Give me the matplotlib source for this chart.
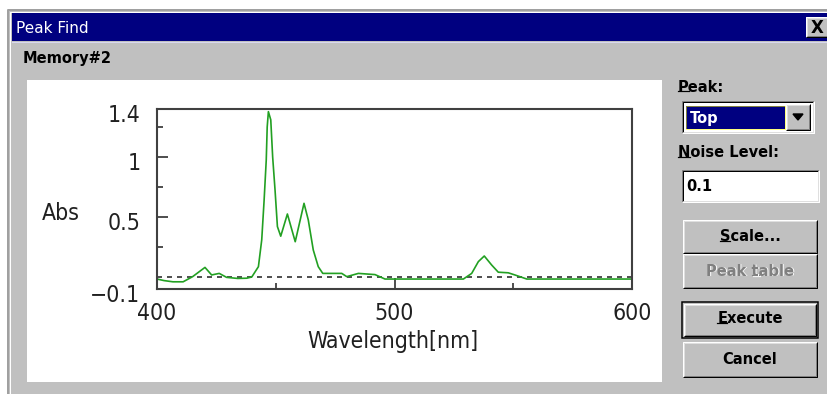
import matplotlib
matplotlib.use('Agg')
import matplotlib.pyplot as plt
from matplotlib.patches import Rectangle
from matplotlib.ticker import FixedLocator
from matplotlib.transforms import ScaledTranslation

# spectrum
wavelength = [400, 403, 406.7, 411, 415, 420.2, 423, 426.2, 429.3, 434, 437.8, 439.9,
              442.7, 444.1, 445.1, 446.0, 446.4, 446.9, 447.9, 448.7, 449.7, 450.7,
              452.1, 454.9, 458.2, 461.9, 463.7, 465.8, 467.9, 469.8, 474, 477.8,
              479.9, 484.8, 491.8, 496, 510, 529, 532.5, 535.3, 537.8, 540.9, 543.7,
              547.9, 550.7, 555.7, 580, 600]
absorbance = [-0.017, -0.03, -0.04, -0.04, 0.003, 0.08, 0.017, 0.03, -0.003, -0.012,
              -0.01, 0.0, 0.086, 0.31, 0.64, 0.975, 1.25, 1.378, 1.31, 1.0, 0.725,
              0.42, 0.34, 0.525, 0.294, 0.614, 0.475, 0.225, 0.086, 0.03, 0.03, 0.03,
              0.003, 0.03, 0.02, -0.017, -0.017, -0.017, 0.03, 0.128, 0.175, 0.1,
              0.04, 0.035, 0.017, -0.017, -0.017, -0.017]

x_major = [400, 500, 600]
x_minor = [450, 550]
y_major = [-0.1, 0.5, 1, 1.4]
y_major_labels = ['\u22120.1', '0.5', '1', '1.4']
y_minor = [0.25, 0.75, 1.25]
noise_level = '0.1'
peak_mode = 'Top'

W, H = 827, 394
FACE = '#c0c0c0'
NAVY = '#000080'
GREEN = '#22a022'

fig = plt.figure(figsize=(W / 100, H / 100), dpi=100)
fig.patch.set_facecolor('white')

# overlay in pixel coordinates for the dialog chrome
bg = fig.add_axes([0, 0, 1, 1])
bg.set_xlim(0, W)
bg.set_ylim(H, 0)
bg.axis('off')
PX = 0.72  # one pixel in points


def edge(x0, y0, x1, y1, tl, br, lw=1):
    bg.plot([x0, x0, x1], [y1, y0, y0], color=tl, lw=lw * PX, solid_capstyle='butt')
    bg.plot([x0, x1, x1], [y1, y1, y0], color=br, lw=lw * PX, solid_capstyle='butt')


def raised(x0, y0, x1, y1):
    bg.add_patch(Rectangle((x0, y0), x1 - x0, y1 - y0, facecolor=FACE, edgecolor='none'))
    edge(x0, y0, x1, y1, 'white', 'black')
    edge(x0 + 1, y0 + 1, x1 - 1, y1 - 1, '#dfdfdf', '#808080')


def sunken(x0, y0, x1, y1, face='white'):
    bg.add_patch(Rectangle((x0, y0), x1 - x0, y1 - y0, facecolor=face, edgecolor='none'))
    edge(x0, y0, x1, y1, '#808080', 'white')
    edge(x0 + 1, y0 + 1, x1 - 1, y1 - 1, 'black', '#dfdfdf')


def label(x, y, s, ul=None, **kw):
    kw.setdefault('fontsize', 10.5)
    kw.setdefault('fontweight', 'bold')
    kw.setdefault('va', 'center')
    t = bg.text(x, y, s, **kw)
    if ul is None:
        return t
    r = fig.canvas.get_renderer()
    bb = t.get_window_extent(r)
    props = dict(fontsize=kw['fontsize'], fontweight=kw['fontweight'])
    tmp = bg.text(0, 0, s[:ul + 1], **props)
    w_pre = tmp.get_window_extent(r).width
    tmp.remove()
    tmp = bg.text(0, 0, s[ul], **props)
    w_ch = tmp.get_window_extent(r).width
    tmp.remove()
    inv = bg.transData.inverted()
    xa, ya = inv.transform((bb.x0 + w_pre - w_ch, bb.y0 + 3.5))
    xb, _ = inv.transform((bb.x0 + w_pre, bb.y0 + 3.5))
    bg.plot([xa, xb], [ya, ya], color=kw.get('color', 'black'), lw=1.2 * PX)
    return t


# window frame and title bar
bg.add_patch(Rectangle((8, 10), W, H, facecolor=FACE, edgecolor='none'))
edge(8, 10, W + 5, H + 5, '#a0a0a0', '#404040', lw=2)
edge(10, 12, W + 5, H + 5, 'white', '#808080')
bg.add_patch(Rectangle((12, 13), W - 12, 28, facecolor=NAVY, edgecolor='none'))
bg.plot([12, W], [42, 42], color='#d8d8f0', lw=PX)
bg.text(16, 28, 'Peak Find', color='white', fontsize=11, va='center')
raised(806, 17, 830, 37)
bg.text(817, 27.5, 'X', fontsize=12, fontweight='bold', ha='center', va='center')

label(23, 58, 'Memory#2')

# white chart panel
bg.add_patch(Rectangle((27, 80), 635, 302, facecolor='white', edgecolor='none'))

# right-hand controls
label(678, 87, 'Peak:', ul=0)
sunken(682, 101, 814, 133)
bg.add_patch(Rectangle((686, 106), 99, 23, facecolor=NAVY, edgecolor='none'))
bg.add_patch(Rectangle((686, 106), 99, 23, facecolor='none', edgecolor='#ffff00',
                       lw=PX, linestyle=(0, (1, 1))))
bg.text(690, 118, peak_mode, color='white', fontsize=10.5, fontweight='bold', va='center')
raised(786, 104, 810, 130)
bg.fill([793, 803, 798], [114, 114, 120], color='black')

label(678, 152.5, 'Noise Level:', ul=0)
sunken(682, 170, 819, 202)
label(686, 186, noise_level)

raised(683, 220, 817, 253)
label(750, 236.5, 'Scale...', ul=0, ha='center')
raised(683, 254, 817, 288)
label(751, 272, 'Peak table', ul=5, ha='center', color='white')
label(750, 271, 'Peak table', ul=5, ha='center', color='#808080')
bg.add_patch(Rectangle((682, 302), 136, 36, facecolor='none', edgecolor='black', lw=1.5 * PX))
raised(684, 304, 816, 336)
label(750, 318.5, 'Execute', ul=0, ha='center')
raised(683, 342, 817, 377)
label(750, 360, 'Cancel', ha='center')

# chart
left, right, top, bottom = 157, 632, 109, 289
ax = fig.add_axes([left / W, 1 - bottom / H, (right - left) / W, (bottom - top) / H])
ax.set_facecolor('white')
ax.axhline(0, color='#303030', lw=1.2, linestyle=(0, (3, 3)), zorder=1)
ax.plot(wavelength, absorbance, color=GREEN, lw=1.2, zorder=2)
ax.set_xlim(400, 600)
ax.set_ylim(-0.1, 1.4)

tick_font = dict(family='DejaVu Sans', stretch='condensed', size=16.5)
ax.xaxis.set_major_locator(FixedLocator(x_major))
ax.xaxis.set_minor_locator(FixedLocator(x_minor))
ax.yaxis.set_major_locator(FixedLocator(y_major))
ax.yaxis.set_minor_locator(FixedLocator(y_minor))
ax.set_xticklabels([str(v) for v in x_major], fontdict=tick_font, color='#202020')
ax.set_yticklabels(y_major_labels, fontdict=tick_font, color='#202020')
ax.tick_params(axis='both', which='major', direction='in', length=8, width=1.2, color='#303030')
ax.tick_params(axis='both', which='minor', direction='in', length=4, width=1.2, color='#303030')
ax.tick_params(axis='x', pad=9)
ax.tick_params(axis='y', pad=12)
# y labels sit a few pixels below their ticks in the original
shift = ScaledTranslation(0, -4 / 100, fig.dpi_scale_trans)
for lab in ax.get_yticklabels():
    lab.set_transform(lab.get_transform() + shift)
for s in ax.spines.values():
    s.set_linewidth(1.5)
    s.set_color('#404040')

ax.set_xlabel('Wavelength[nm]', fontdict=tick_font, color='#202020', va='center')
ax.xaxis.set_label_coords(0.497, -0.294)
ax.set_ylabel('Abs', fontdict=tick_font, color='#202020', rotation=0, va='center', ha='center')
ax.yaxis.set_label_coords(-0.202, 0.422)

fig.savefig('out.png', dpi=100)
